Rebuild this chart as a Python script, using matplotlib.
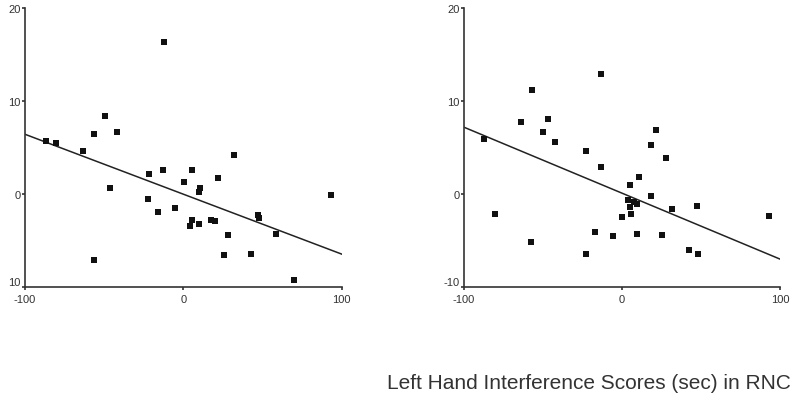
import matplotlib
matplotlib.use("Agg")
import matplotlib.pyplot as plt

# ---- data ----
left_x = [-86.7, -80.2, -63.4, -56.2, -49.5, -41.7, -45.9, -56.6, -12.4, -21.7,
          -12.6, -22.5, -16.2, -5.1, 0.4, 5.3, 5.5, 4.6, 9.7, 10.9,
          9.7, 17.8, 20.0, 22.1, 32.0, 28.4, 25.9, 42.7, 47.4, 48.0,
          58.9, 69.9, 93.3]
left_y = [5.75, 5.5, 4.6, 6.5, 8.36, 6.68, 0.68, -7.07, 16.3, 2.1,
          2.57, -0.57, -1.96, -1.54, 1.29, 2.57, -2.82, -3.39, 0.18, 0.64,
          -3.18, -2.8, -2.9, 1.75, 4.21, -4.46, -6.57, -6.46, -2.25, -2.6,
          -4.25, -9.21, -0.11]

right_x = [-87.1, -80.6, -64.1, -57.1, -57.3, -50.2, -46.6, -42.3, -22.5, -22.9,
           -13.0, -13.2, -16.8, -5.4, 0.1, 5.0, 4.1, 5.0, 5.6, 7.7,
           9.2, 10.5, 9.2, 18.3, 18.1, 21.4, 25.2, 27.8, 31.8, 42.1,
           47.2, 48.0, 93.2]
right_y = [5.93, -2.1, 7.79, 11.2, -5.14, 6.64, 8.07, 5.54, 4.64, -6.43,
           12.93, 2.86, -4.07, -4.5, -2.43, 0.93, -0.64, -1.36, -2.18, -0.89,
           -1.07, 1.82, -4.32, 5.25, -0.25, 6.89, -4.39, 3.82, -1.57, -6.04,
           -1.32, -6.43, -2.39]

fit_x = [-100, 100]
fit_left_y = [6.43, -6.46]
fit_right_y = [7.18, -7.0]

x_ticks = [-100, 0, 100]
x_tick_labels = ["-100", "0", "100"]
y_ticks = [20, 10, 0, -10]
left_y_tick_labels = ["20", "10", "0", "10"]
right_y_tick_labels = ["20", "10", "0", "-10"]

xlabel_text = "Left Hand Interference Scores (sec) in RNC"

# ---- figure ----
plt.rcParams['font.family'] = ['Liberation Sans', 'DejaVu Sans']
fig = plt.figure(figsize=(8.0, 4.02), dpi=100)

ax1 = fig.add_axes([0.031, 0.2836, 0.396, 0.694])
ax2 = fig.add_axes([0.580, 0.2836, 0.395, 0.694])

for ax, xs, ys, fy, ylabels in [(ax1, left_x, left_y, fit_left_y, left_y_tick_labels),
                                (ax2, right_x, right_y, fit_right_y, right_y_tick_labels)]:
    ax.scatter(xs, ys, marker='s', s=21, color='#111111', linewidths=0, zorder=3)
    ax.plot(fit_x, fy, color='#222222', lw=1.1, zorder=2)
    ax.set_xlim(-100, 100)
    ax.set_ylim(-10, 20)
    ax.set_xticks(x_ticks)
    ax.set_xticklabels(x_tick_labels)
    ax.set_yticks(y_ticks)
    ax.set_yticklabels(ylabels)
    for s in ['top', 'right']:
        ax.spines[s].set_visible(False)
    for s in ['left', 'bottom']:
        ax.spines[s].set_color('#333333')
        ax.spines[s].set_linewidth(1.2)
    ax.tick_params(direction='out', length=2, width=1.2, color='#333333',
                   labelsize=8, labelcolor='#333333')
    ax.tick_params(axis='x', pad=3)
    ax.tick_params(axis='y', pad=1)
    # lift the lowest y label slightly so it clears the -100 label
    ax.get_yticklabels()[-1].set_verticalalignment('bottom')
    ax.patch.set_alpha(0)

fig.text(0.736, 0.047, xlabel_text, ha='center', va='center',
         fontsize=15, color='#333333')

fig.savefig("out.png", dpi=100)
